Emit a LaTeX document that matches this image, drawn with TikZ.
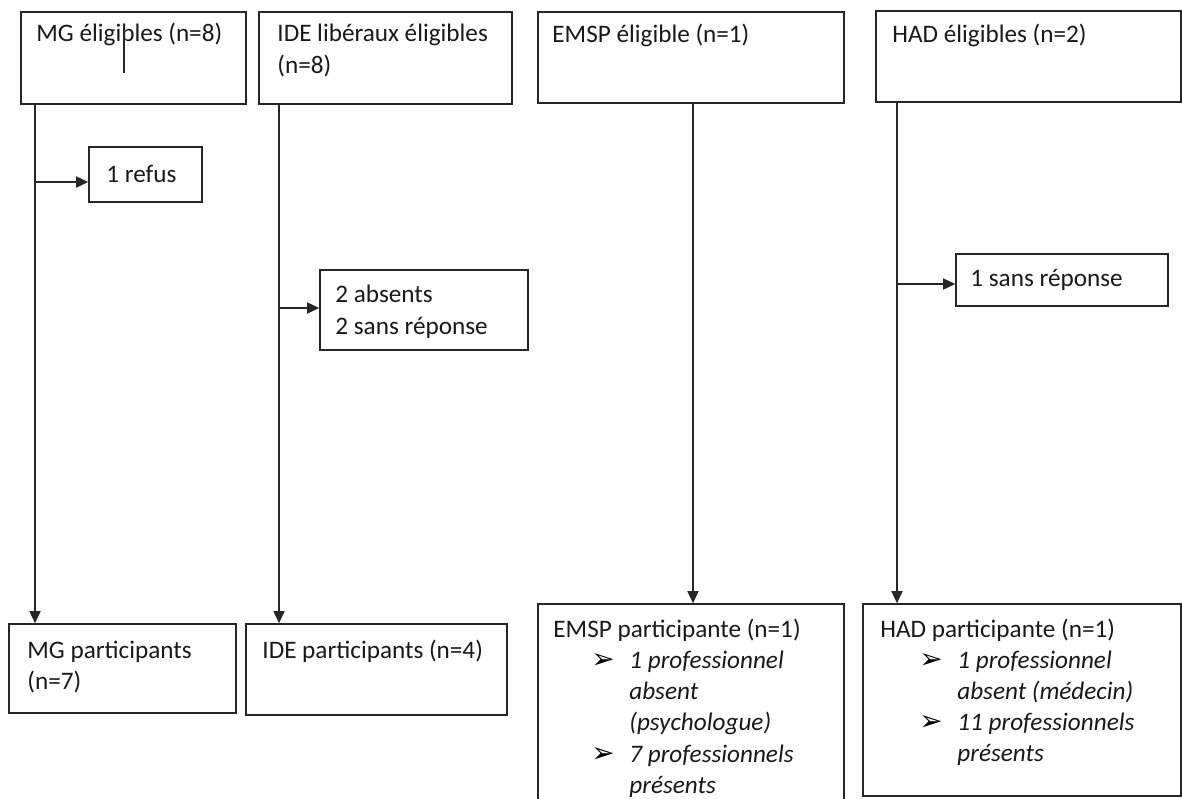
\documentclass[tikz,border=0pt]{standalone}
\usepackage{fontspec}
\setmainfont{Carlito}
\newfontfamily\dejavu{DejaVu Sans}
\usetikzlibrary{fit,arrows.meta,calc}
\begin{document}
\begin{tikzpicture}[x=0.5pt,y=-0.5pt,
  box/.style={draw=black!85,line width=0.8pt,inner sep=0pt,rectangle},
  txt/.style={inner sep=0pt,anchor=base west,text=black!90,font=\fontsize{12.6}{15.5}\selectfont},
  itx/.style={txt,font=\fontsize{12.6}{15.5}\selectfont\itshape},
  bul/.style={inner sep=0pt,anchor=base west,font=\dejavu\fontsize{14}{14}\selectfont},
  arr/.style={draw=black!85,line width=0.8pt,-{Triangle[length=6pt,width=5.5pt]}},
  ln/.style={draw=black!85,line width=0.8pt}]
\path[use as bounding box,clip] (0,0) rectangle (1182,798);
% top boxes
\node[box,fit={(21,12) (246,104)}] (mgtop) {};
\node[box,fit={(259,12) (512,104)}] (idetop) {};
\node[box,fit={(538,12) (844,103)}] (emsptop) {};
\node[box,fit={(876,11) (1181,102)}] (hadtop) {};
\node[txt] (t1) at (36,41) {MG éligibles (n=8)};
\node[txt] (t2) at (277,41) {IDE libéraux éligibles};
\node[txt] (t2b) at (277,73) {(n=8)};
\node[txt] (t3) at (552,42) {EMSP éligible (n=1)};
\node[txt] (t4) at (892,42) {HAD éligibles (n=2)};
\coordinate (tickA) at (124,25);
\coordinate (tickB) at (124,73);
\draw[ln] (tickA) -- (tickB);
% side boxes
\node[box,fit={(89,147) (202,202)}] (refus) {};
\node[txt] (t5) at (106,182) {1 refus};
\node[box,fit={(320,270) (528,350)}] (absents) {};
\node[txt] (t6) at (335,302) {2 absents};
\node[txt] (t6b) at (335,334) {2 sans réponse};
\node[box,fit={(956,254) (1168,306)}] (sansrep) {};
\node[txt] (t7) at (970,286) {1 sans réponse};
% bottom boxes
\node[box,fit={(9,624) (236,713)}] (mgbot) {};
\node[txt] (t8) at (27,658) {MG participants};
\node[txt] (t8b) at (27,689) {(n=7)};
\node[box,fit={(246,624) (507,715)}] (idebot) {};
\node[txt] (t9) at (262,658) {IDE participants (n=4)};
\node[box,fit={(538,604) (844,810)}] (emspbot) {};
\node[txt] (t10) at (553,637) {EMSP participante (n=1)};
\node[bul] (b1) at (591,668) {➢};
\node[itx] (t10a) at (629,668) {1 professionnel};
\node[itx] (t10b) at (629,699) {absent};
\node[itx] (t10c) at (629,730) {(psychologue)};
\node[bul] (b2) at (591,762) {➢};
\node[itx] (t10d) at (629,762) {7 professionnels};
\node[itx] (t10e) at (629,793) {présents};
\node[box,fit={(863,604) (1181,796)}] (hadbot) {};
\node[txt] (t11) at (880,637) {HAD participante (n=1)};
\node[bul] (b3) at (919,668) {➢};
\node[itx] (t11a) at (957,668) {1 professionnel};
\node[itx] (t11b) at (957,699) {absent (médecin)};
\node[bul] (b4) at (919,730) {➢};
\node[itx] (t11c) at (957,730) {11 professionnels};
\node[itx] (t11d) at (957,761) {présents};
% connectors
\coordinate (xmg) at (35,0);
\coordinate (xide) at (279,0);
\coordinate (xemsp) at (693,0);
\coordinate (xhad) at (897,0);
\draw[arr] (xmg |- mgtop.south) -- (xmg |- mgbot.north);
\draw[arr] (xide |- idetop.south) -- (xide |- idebot.north);
\draw[arr] (xemsp |- emsptop.south) -- (xemsp |- emspbot.north);
\draw[arr] (xhad |- hadtop.south) -- (xhad |- hadbot.north);
\coordinate (r1) at (35,182);
\coordinate (r2) at (279,308);
\coordinate (r3) at (897,284);
\draw[arr] (r1) -- (r1 -| refus.west);
\draw[arr] (r2) -- (r2 -| absents.west);
\draw[arr] (r3) -- (r3 -| sansrep.west);
\end{tikzpicture}
\end{document}
